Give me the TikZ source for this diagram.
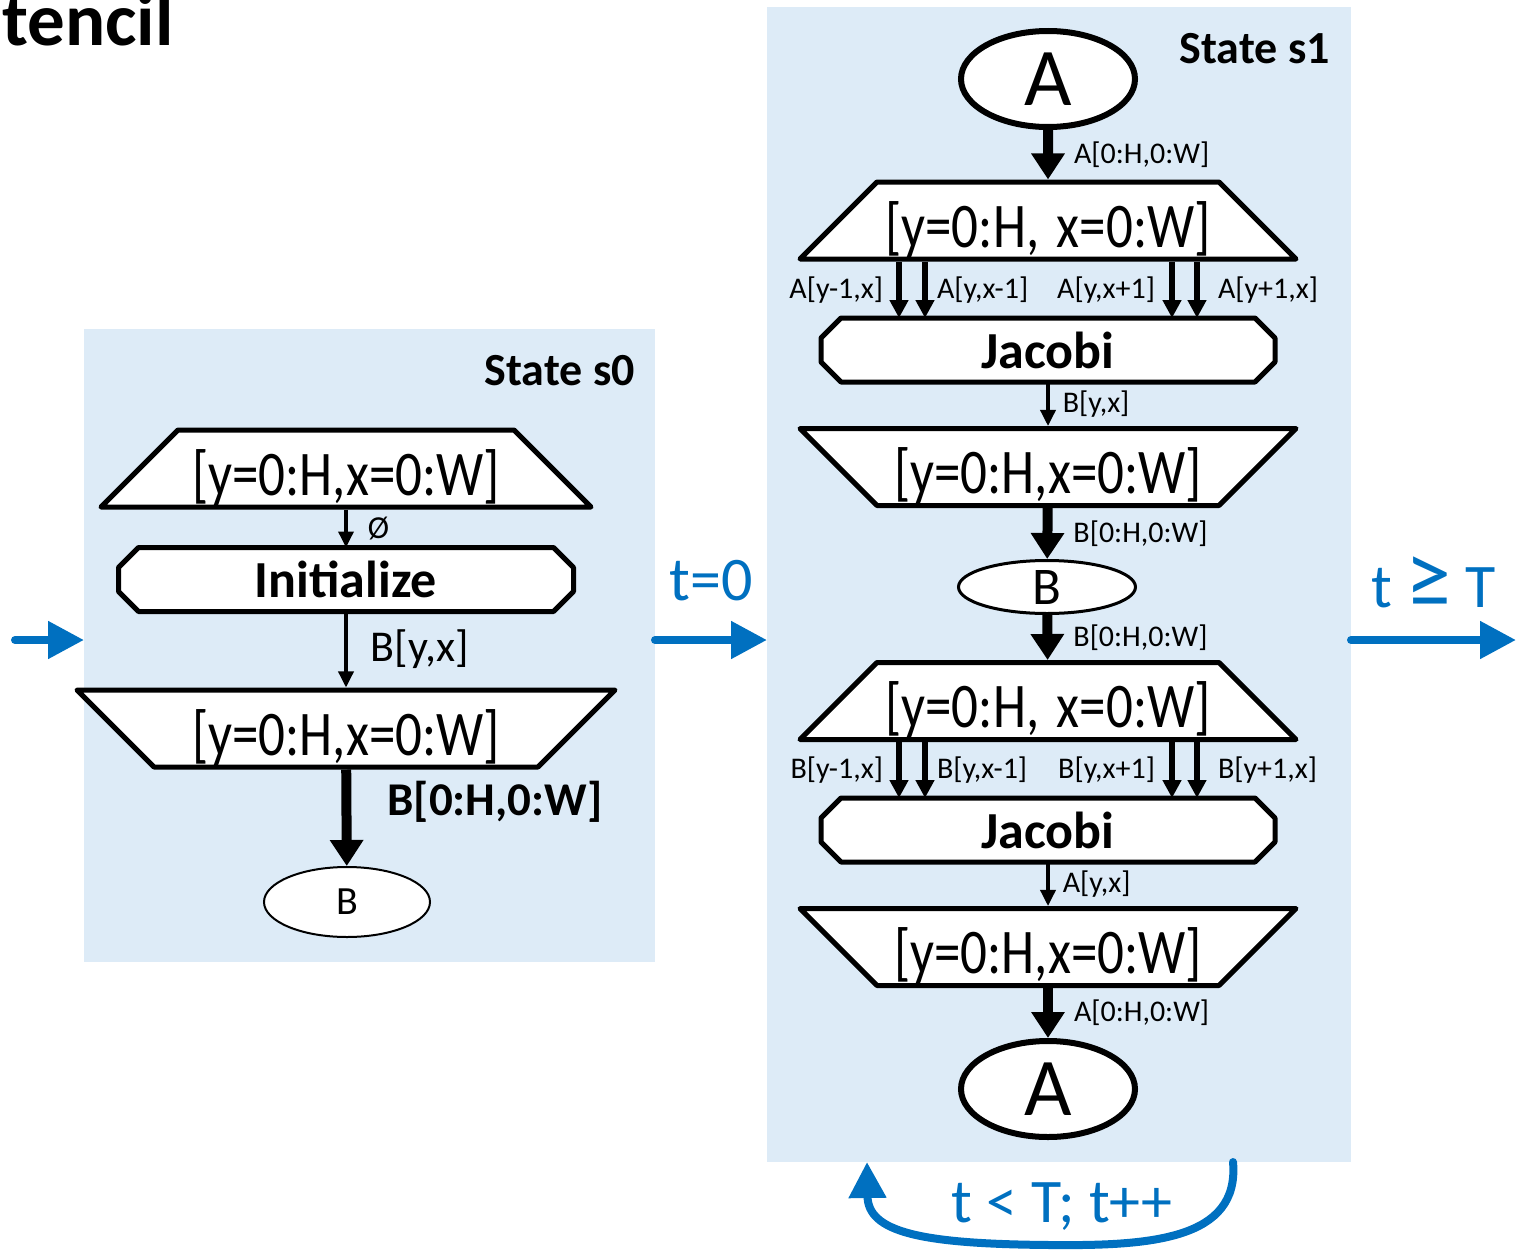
\documentclass[tikz,border=0pt]{standalone}
\usepackage{fontspec}
\setmainfont{Carlito}
\usepackage{tikz}
\usetikzlibrary{shapes, arrows.meta, positioning}
\definecolor{statefill}{HTML}{DDEBF7}
\definecolor{transblue}{HTML}{0070C0}
\pgfdeclarelayer{bg}
\pgfdeclarelayer{frame}
\pgfsetlayers{bg,frame,main}
\newcommand\tallrange[1]{\scalebox{1}[1.2]{#1}}
\newcommand\taskframe[1]{%
	\begin{pgfonlayer}{frame}
		\filldraw[fill=white, line width=5pt, line join=round]
			([xshift=20pt]#1.north west) -- ([xshift=-20pt]#1.north east) --
			([yshift=-20pt]#1.north east) -- ([yshift=20pt]#1.south east) --
			([xshift=-20pt]#1.south east) -- ([xshift=20pt]#1.south west) --
			([yshift=20pt]#1.south west) -- ([yshift=-20pt]#1.north west) -- cycle;
	\end{pgfonlayer}}

\begin{document}
\begin{tikzpicture}[x=1pt, y=-1pt,
	fs/.style={font=\fontsize{#1}{#1}\selectfont},
	bfs/.style={font=\fontsize{#1}{#1}\selectfont\bfseries},
	statebox/.style={fill=statefill, inner sep=0pt, outer sep=0pt},
	mapentry/.style={trapezium, trapezium left angle=45, trapezium right angle=45,
		draw, line width=5pt, line join=round, fill=white, inner sep=0pt,
		text height=65pt, text depth=12pt, align=center, fs=53},
	mapexit/.style={mapentry, shape border rotate=180},
	tasklet/.style={rectangle, inner sep=0pt, outer sep=0pt, minimum width=454pt,
		minimum height=64pt, bfs=52},
	access/.style={ellipse, draw, fill=white, inner sep=0pt},
	memlet/.style={-{Triangle[length=16pt, width=15pt]}, line width=3.5pt},
	splitmemlet/.style={-{Triangle[length=18pt, width=18pt]}, line width=6pt},
	fullmemlet/.style={-{Triangle[length=26pt, width=32pt]}, line width=10pt},
	interstate/.style={transblue, line width=8pt, line cap=round,
		-{Triangle[length=36pt, width=36pt]}},
	translabel/.style={transblue, fs=62, inner sep=0pt},
	memlabel/.style={fs=30, inner sep=3pt}]
	\useasboundingbox (0,0) rectangle (1516,1250);
	\node[bfs=75, anchor=base west, inner sep=0pt] (title) at (2,45) {tencil};

	\begin{pgfonlayer}{bg}
		\node[statebox, minimum width=571pt, minimum height=633pt] (s0) at (369.5,645.5) {};
		\node[statebox, minimum width=584pt, minimum height=1155pt] (s1) at (1059,584.5) {};
	\end{pgfonlayer}
	\node[bfs=46, anchor=base east, inner sep=0pt] (s0name) at (635,385) {State s0};
	\node[bfs=46, anchor=base east, inner sep=0pt] (s1name) at (1330,63) {State s1};

	\node[mapentry, text width=336pt] (initmap) at (346,468.5) {\tallrange{[y=0:H,x=0:W]}};
	\node[tasklet, minimum width=455pt] (init) at (346,579.5) {Initialize};
	\taskframe{init}
	\node[mapexit, text width=384pt] (initmapx) at (346,728.5) {\tallrange{[y=0:H,x=0:W]}};
	\node[access, line width=2pt, minimum width=166pt, minimum height=70pt, fs=40] (b0) at (347,902) {B};
	\draw[memlet] (initmap) -- node[memlabel, right=17pt, fs=32] {Ø} (init);
	\draw[memlet] (init) -- node[memlabel, right=20pt, fs=44] {B[y,x]} (initmapx);
	\draw[fullmemlet] (initmapx) -- node[memlabel, right=33pt, pos=0.33, bfs=47] {B[0:H,0:W]} (b0);

	\node[access, line width=6pt, minimum width=174pt, minimum height=96pt, fs=82] (atop) at (1048,79) {A};
	\node[mapentry, text width=342pt] (mapa) at (1048,220.5) {\tallrange{[y=0:H, x=0:W]}};
	\node[tasklet] (jaca) at (1048,350) {Jacobi};
	\taskframe{jaca}
	\node[mapexit, text width=342pt] (mapax) at (1048,467) {\tallrange{[y=0:H,x=0:W]}};
	\node[access, line width=3pt, minimum width=177pt, minimum height=53pt, fs=53] (bmid) at (1047,587) {B};
	\node[mapentry, text width=342pt] (mapb) at (1048,701) {\tallrange{[y=0:H, x=0:W]}};
	\node[tasklet] (jacb) at (1048,830) {Jacobi};
	\taskframe{jacb}
	\node[mapexit, text width=342pt] (mapbx) at (1048,947) {\tallrange{[y=0:H,x=0:W]}};
	\node[access, line width=6pt, minimum width=174pt, minimum height=96pt, fs=82] (abot) at (1048,1089) {A};

	\draw[fullmemlet] (atop) -- node[memlabel, right=18pt] {A[0:H,0:W]} (mapa);
	\draw[memlet] (jaca) -- node[memlabel, right=10pt] {B[y,x]} (mapax);
	\draw[fullmemlet] (mapax) -- node[memlabel, right=18pt] {B[0:H,0:W]} (bmid);
	\draw[fullmemlet] (bmid) -- node[memlabel, right=18pt] {B[0:H,0:W]} (mapb);
	\draw[memlet] (jacb) -- node[memlabel, right=10pt] {A[y,x]} (mapbx);
	\draw[fullmemlet] (mapbx) -- node[memlabel, right=18pt] {A[0:H,0:W]} (abot);
	\foreach \src/\dst/\dat in {mapa/jaca/A, mapb/jacb/B} {
		\foreach \dx/\side/\gap/\idx in {-149/left/10/{y-1,x}, -123/right/6/{y,x-1},
				124/left/11/{y,x+1}, 149/right/15/{y+1,x}}
			\draw[splitmemlet] ([xshift=\dx pt]\src.south) --
				node[memlabel, \side=\gap pt] {\dat[\idx]} ([xshift=\dx pt]\dst.north);
	}

	\coordinate (start) at (15,640);
	\coordinate (finish) at (1516,640);
	\draw[interstate] (start) -- (start -| s0.west);
	\draw[interstate] (s0.east |- start) -- node[translabel, above=35pt] (tzero) {t=0} (s1.west |- start);
	\draw[interstate] (s1.east |- start) -- node[translabel, above=28pt] (tdone) {t {\fontsize{92}{92}\selectfont ≥} T} (finish);
	\draw[interstate] ([xshift=174pt]s1.south) .. controls (1240,1240) and (1150,1246) .. (1050,1245)
		.. controls (920,1244) and (868,1232) .. ([xshift=-192pt]s1.south);
	\node[translabel, anchor=base] (tloop) at (1062,1222) {t < T; t++};
\end{tikzpicture}
\end{document}
